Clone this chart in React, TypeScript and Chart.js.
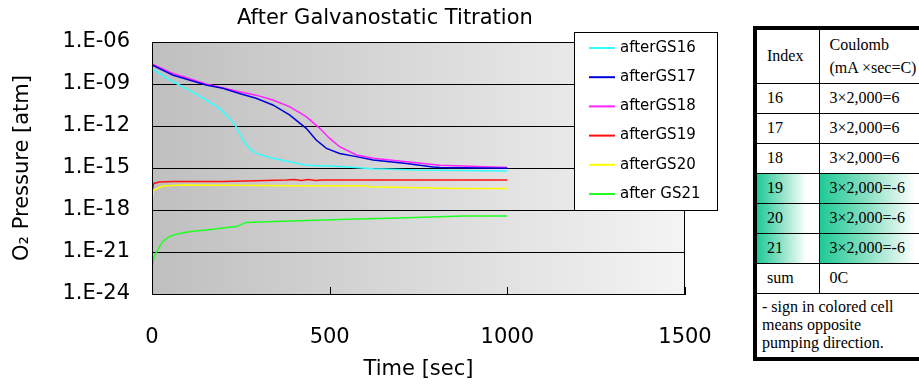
import React, { useEffect, useRef } from "react";
import { Chart, registerables } from "chart.js";

Chart.register(...registerables);

// ---------- data ----------
const seriesLabels = ["afterGS16", "afterGS17", "afterGS18", "afterGS19", "afterGS20", "after GS21"];
const seriesColors = ["#33ffff", "#0000dd", "#ff22ff", "#ff1010", "#ffff00", "#22ff22"];

const t16 = [0, 35, 58, 105, 152, 190, 218, 237, 256, 274, 293, 340, 387, 434, 528, 622, 744, 810, 1000];
const p16 = [1.3e-8, 3.3e-9, 1.5e-9, 3.7e-10, 7.2e-11, 1.8e-11, 3.5e-12, 8.9e-13, 1.0e-13, 2.5e-14, 1.1e-14, 4.9e-15, 2.8e-15, 1.6e-15, 1.3e-15, 8.9e-16, 7.2e-16, 7.0e-16, 6.2e-16];

const t17 = [0, 58, 152, 199, 246, 293, 340, 387, 434, 462, 491, 528, 575, 622, 716, 791, 810, 1000];
const p17 = [2.3e-8, 4.4e-9, 8.5e-10, 4.9e-10, 2.1e-10, 9.5e-11, 3.2e-11, 6.2e-12, 6.8e-13, 1.0e-13, 2.5e-14, 1.1e-14, 6.5e-15, 3.7e-15, 2.1e-15, 1.2e-15, 1.1e-15, 9.5e-16];

const t18 = [0, 58, 152, 246, 293, 340, 387, 434, 472, 500, 528, 575, 622, 716, 810, 1000];
const p18 = [2.7e-8, 5.8e-9, 1.0e-9, 2.8e-10, 1.6e-10, 7.2e-11, 2.4e-11, 4.7e-12, 6.8e-13, 1.3e-13, 3.3e-14, 8.5e-15, 4.9e-15, 2.8e-15, 1.6e-15, 1.1e-15];

const t19 = [0, 5, 20, 60, 200, 378, 400, 420, 440, 460, 480, 1000];
const p19 = [2.0e-17, 7.9e-17, 1.0e-16, 1.1e-16, 1.1e-16, 1.4e-16, 1.5e-16, 1.3e-16, 1.5e-16, 1.3e-16, 1.4e-16, 1.4e-16];

const t20 = [0, 5, 30, 86, 200, 400, 600, 613, 857, 1000];
const p20 = [5.1e-18, 2.7e-17, 5.1e-17, 6.2e-17, 5.8e-17, 5.5e-17, 5.5e-17, 4.6e-17, 3.5e-17, 3.5e-17];

const t21 = [0, 1, 6, 16, 30, 49, 77, 105, 152, 237, 265, 368, 481, 575, 669, 763, 876, 1000];
const p21 = [1.1e-24, 8.9e-23, 4.6e-22, 1.4e-21, 5.5e-21, 1.3e-20, 2.1e-20, 2.8e-20, 3.7e-20, 6.5e-20, 1.3e-19, 1.6e-19, 1.9e-19, 2.3e-19, 2.6e-19, 3.0e-19, 3.7e-19, 3.7e-19];

const yTickValues = [1e-6, 1e-9, 1e-12, 1e-15, 1e-18, 1e-21, 1e-24];
const yTickLabels = ["1.E-06", "1.E-09", "1.E-12", "1.E-15", "1.E-18", "1.E-21", "1.E-24"];
const xTickValues = [0, 500, 1000, 1500];
const xTickLabels = ["0", "500", "1000", "1500"];

const chartTitle = "After Galvanostatic Titration";
const xTitle = "Time [sec]";
const yTitle = "O\u2082 Pressure [atm]";

const tableHeader = ["Index", "Coulomb", "(mA \u00d7sec=C)"];
const tableIndex = ["16", "17", "18", "19", "20", "21"];
const tableCoulomb = ["3\u00d72,000=6", "3\u00d72,000=6", "3\u00d72,000=6", "3\u00d72,000=-6", "3\u00d72,000=-6", "3\u00d72,000=-6"];
const tableColored = [false, false, false, true, true, true];
const tableSum = ["sum", "0C"];
const tableNote = ["- sign in colored cell", "means opposite", "pumping direction."];

const FONT = "'DejaVu Sans', Verdana, sans-serif";
const AXIS_SIZE = 21;

const allTimes = [t16, t17, t18, t19, t20, t21];
const allP = [p16, p17, p18, p19, p20, p21];

const bgPlugin = {
  id: "bgGradient",
  beforeDraw(chart: any) {
    const { ctx, chartArea: a } = chart;
    const g = ctx.createLinearGradient(a.left, 0, a.right, 0);
    g.addColorStop(0, "#bfbfbf");
    g.addColorStop(1, "#f4f4f4");
    ctx.save();
    ctx.fillStyle = g;
    ctx.fillRect(a.left, a.top, a.right - a.left, a.bottom - a.top);
    ctx.restore();
  },
};

const framePlugin = {
  id: "frame",
  afterDatasetsDraw(chart: any) {
    const { ctx, chartArea: a, scales } = chart;
    ctx.save();
    ctx.strokeStyle = "#000";
    ctx.lineWidth = 1;
    ctx.strokeRect(a.left + 0.5, a.top + 0.5, a.right - a.left - 1, a.bottom - a.top);
    ctx.beginPath();
    for (const v of xTickValues) {
      const x = Math.round(scales.x.getPixelForValue(v)) + 0.5;
      ctx.moveTo(x, a.bottom);
      ctx.lineTo(x, a.bottom - 7);
    }
    ctx.stroke();
    ctx.restore();
  },
};

const overlayPlugin = {
  id: "overlay",
  afterDraw(chart: any) {
    const { ctx } = chart;
    ctx.save();
    // title
    ctx.fillStyle = "#000";
    ctx.font = `${AXIS_SIZE}px ${FONT}`;
    ctx.textAlign = "left";
    ctx.textBaseline = "middle";
    ctx.fillText(chartTitle, 237, 19);
    // legend
    const lx = 574, ly = 32, lw = 143, lh = 178;
    ctx.fillStyle = "#fff";
    ctx.fillRect(lx, ly, lw, lh);
    ctx.strokeStyle = "#000";
    ctx.lineWidth = 1;
    ctx.strokeRect(lx + 0.5, ly + 0.5, lw, lh);
    ctx.font = `15px ${FONT}`;
    ctx.textAlign = "left";
    chart.data.datasets.forEach((ds: any, i: number) => {
      const y = ly + 16 + i * 29.2;
      ctx.strokeStyle = ds.borderColor;
      ctx.lineWidth = 2;
      ctx.beginPath();
      ctx.moveTo(lx + 15, y);
      ctx.lineTo(lx + 41, y);
      ctx.stroke();
      ctx.fillStyle = "#000";
      ctx.fillText(ds.label, lx + 46, y);
    });
    ctx.restore();
  },
};

function ChartView() {
  const ref = useRef<HTMLCanvasElement | null>(null);
  useEffect(() => {
    if (!ref.current) return;
    const chart = new Chart(ref.current, {
      type: "line",
      data: {
        datasets: seriesLabels.map((label, i) => ({
          label,
          data: allTimes[i].map((t, j) => ({ x: t, y: allP[i][j] })),
          borderColor: seriesColors[i],
          backgroundColor: seriesColors[i],
          borderWidth: 1.5,
          pointRadius: 0,
          tension: 0,
          fill: false,
        })),
      },
      options: {
        animation: false,
        responsive: false,
        maintainAspectRatio: false,
        layout: { padding: { left: 0, right: 234, top: 42, bottom: 0 } },
        plugins: {
          legend: { display: false },
          title: { display: false },
          tooltip: { enabled: false },
        },
        scales: {
          x: {
            type: "linear",
            min: 0,
            max: 1500,
            afterBuildTicks: (s: any) => {
              s.ticks = xTickValues.map((v) => ({ value: v }));
            },
            afterFit: (s: any) => {
              s.height = 91;
            },
            ticks: {
              color: "#000",
              font: { family: FONT, size: AXIS_SIZE },
              padding: 31,
              maxRotation: 0,
              autoSkip: false,
              callback: (v: any) => {
                const idx = xTickValues.indexOf(Number(v));
                return idx >= 0 ? xTickLabels[idx] : "";
              },
            },
            grid: { display: false, drawTicks: false },
            border: { display: true, color: "#000" },
            title: {
              display: true,
              text: xTitle,
              color: "#000",
              font: { family: FONT, size: AXIS_SIZE },
              padding: { top: 0, bottom: 3 },
            },
          },
          y: {
            type: "logarithmic",
            min: 1e-24,
            max: 1e-6,
            afterBuildTicks: (s: any) => {
              s.ticks = yTickValues.map((v) => ({ value: v }));
            },
            afterFit: (s: any) => {
              s.width = 152;
            },
            ticks: {
              color: "#000",
              font: { family: FONT, size: AXIS_SIZE },
              padding: 22,
              autoSkip: false,
              callback: (v: any) => {
                const idx = yTickValues.findIndex((t) => Math.abs(Math.log10(t) - Math.log10(Number(v))) < 1e-6);
                return idx >= 0 ? yTickLabels[idx] : "";
              },
            },
            grid: { color: "#000", lineWidth: 1, drawTicks: false },
            border: { display: true, color: "#000" },
            title: {
              display: true,
              text: yTitle,
              color: "#000",
              font: { family: FONT, size: AXIS_SIZE },
              padding: { top: 10, bottom: 0 },
            },
          },
        },
      } as any,
      plugins: [bgPlugin, framePlugin, overlayPlugin],
    });
    return () => chart.destroy();
  }, []);
  return <canvas ref={ref} width={919} height={385} style={{ display: "block", width: 919, height: 385 }} />;
}

const cellBase: React.CSSProperties = {
  border: "1px solid #000",
  padding: "0 0 0 10px",
  textAlign: "left",
  verticalAlign: "middle",
  fontFamily: "'Liberation Serif', 'Times New Roman', serif",
  fontSize: 16,
  fontWeight: "normal",
  color: "#000",
  whiteSpace: "nowrap",
};
const greenIdx = "linear-gradient(to right, #1ec995 0%, #8fe2c6 40%, #ffffff 80%)";
const greenVal = "linear-gradient(to right, #1ec995 0%, #86dfc1 35%, #ffffff 72%)";

function DataTable() {
  return (
    <table
      style={{
        position: "absolute",
        left: 753,
        top: 26,
        width: 200,
        borderCollapse: "collapse",
        border: "4px solid #000",
        background: "#fff",
        tableLayout: "fixed",
      }}
    >
      <colgroup>
        <col style={{ width: 64 }} />
        <col style={{ width: 136 }} />
      </colgroup>
      <tbody>
        <tr style={{ height: 55 }}>
          <td style={cellBase}>{tableHeader[0]}</td>
          <td style={{ ...cellBase, lineHeight: "23px" }}>
            {tableHeader[1]}
            <br />
            {tableHeader[2]}
          </td>
        </tr>
        {tableIndex.map((idx, i) => (
          <tr key={idx} style={{ height: 30 }}>
            <td style={{ ...cellBase, background: tableColored[i] ? greenIdx : "#fff" }}>{idx}</td>
            <td style={{ ...cellBase, background: tableColored[i] ? greenVal : "#fff" }}>{tableCoulomb[i]}</td>
          </tr>
        ))}
        <tr style={{ height: 30 }}>
          <td style={cellBase}>{tableSum[0]}</td>
          <td style={cellBase}>{tableSum[1]}</td>
        </tr>
        <tr style={{ height: 66 }}>
          <td colSpan={2} style={{ ...cellBase, padding: "0 0 0 5px", lineHeight: "18px" }}>
            {tableNote.map((line, i) => (
              <React.Fragment key={i}>
                {line}
                {i < tableNote.length - 1 ? <br /> : null}
              </React.Fragment>
            ))}
          </td>
        </tr>
      </tbody>
    </table>
  );
}

export default function App() {
  return (
    <div
      style={{
        position: "fixed",
        left: 0,
        top: 0,
        width: 919,
        height: 385,
        overflow: "hidden",
        background: "#fff",
      }}
    >
      <ChartView />
      <DataTable />
    </div>
  );
}
